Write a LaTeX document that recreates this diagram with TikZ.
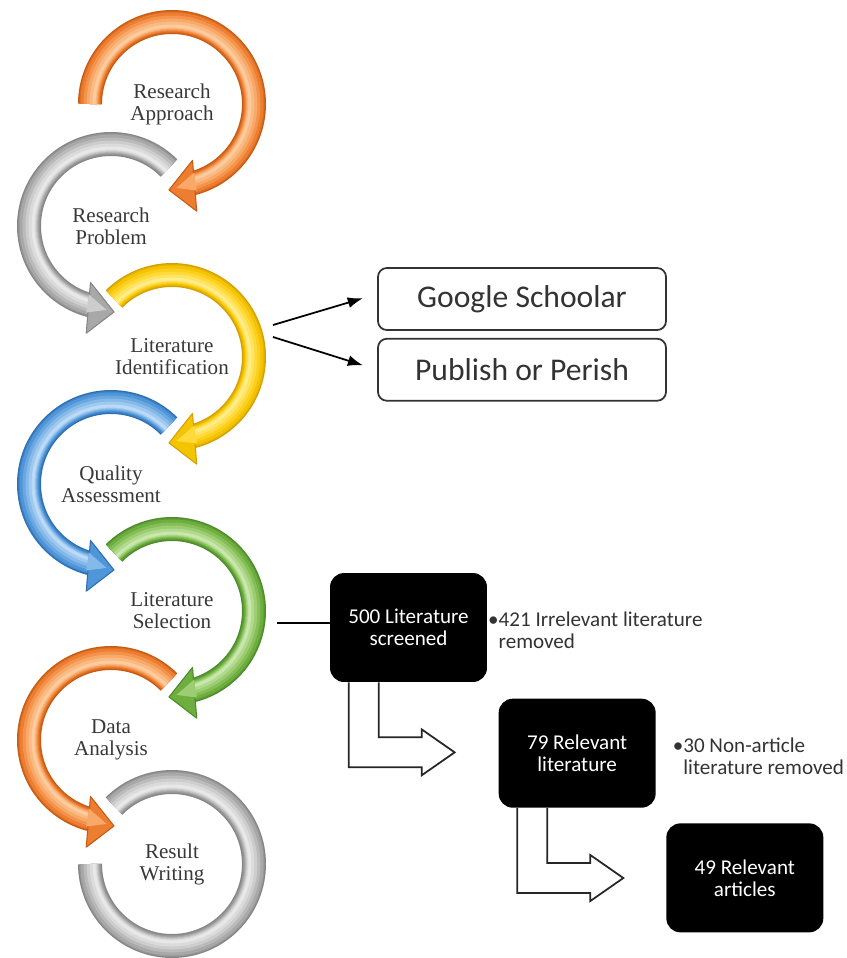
\documentclass[tikz,border=0pt]{standalone}
\usepackage{fontspec}
\setmainfont{Liberation Serif}
\newfontfamily\calibri{Carlito}
\usepackage{xcolor}
\usepackage{tikz}
\usetikzlibrary{arrows.meta,positioning,calc}
\definecolor{orangeD}{HTML}{C65A11}
\definecolor{orangeB}{HTML}{ED7D31}
\definecolor{orangeL}{HTML}{F8A968}
\definecolor{orangeH}{HTML}{FCCB9E}
\definecolor{grayD}{HTML}{858585}
\definecolor{grayB}{HTML}{A8A8A8}
\definecolor{grayL}{HTML}{CDCDCD}
\definecolor{grayH}{HTML}{E8E8E8}
\definecolor{yellowD}{HTML}{D4A000}
\definecolor{yellowB}{HTML}{F5C400}
\definecolor{yellowL}{HTML}{FFDA3A}
\definecolor{yellowH}{HTML}{FFEC8A}
\definecolor{blueD}{HTML}{2E6FB0}
\definecolor{blueB}{HTML}{4F95D9}
\definecolor{blueL}{HTML}{84B9EA}
\definecolor{blueH}{HTML}{BCDAF5}
\definecolor{greenD}{HTML}{4C8A2A}
\definecolor{greenB}{HTML}{6DAE3F}
\definecolor{greenL}{HTML}{9CCD70}
\definecolor{greenH}{HTML}{C9E7AC}
\tikzset{
    stage/.style={
        align=center,
        text=black!78,
        font=\fontsize{12}{12.5}\selectfont
    },
    source/.style={
        rectangle,
        draw=black!80,
        line width=1pt,
        rounded corners=5pt,
        minimum width=5.76cm,
        minimum height=1.24cm,
        text=black!80,
        font=\calibri\fontsize{18}{20}\selectfont
    },
    count/.style={
        rectangle,
        fill=black,
        rounded corners=8pt,
        align=center,
        minimum width=3.14cm,
        minimum height=2.18cm,
        text=white,
        font=\calibri\fontsize{12}{12.5}\selectfont
    },
    note/.style={align=left, inner sep=0pt, text=black!80, font=\calibri\fontsize{12}{12.5}\selectfont},
    feed/.style={-{Latex[length=3mm,width=2.2mm]}, line width=1pt},
    blockarrow/.style={draw=black!85, fill=white, line width=1pt},
    pics/ring/.style n args={3}{code={
        % shaded tube, dark rim to light core
        \foreach \w/\r/\c in {0.48/82/#3D, 0.43/82/#3D!50!#3B, 0.38/82/#3B, 0.30/81/#3B!50!#3L,
                              0.22/80/#3L, 0.14/79/#3L!50!#3H, 0.06/78/#3H}
            \draw[line width=\w cm, \c] (#1:\r) arc[start angle=#1, end angle=#2, radius=\r*0.02cm];
    }},
    pics/ringhead/.style n args={3}{code={
        \filldraw[fill=#3B, draw=#3D, line width=0.6pt, line join=round]
            (#1-3*#2:60) -- (#1+19*#2:86) -- (#1+4*#2:110) -- cycle;
        \fill[#3L] (#1-1*#2:72) -- (#1+14*#2:84) -- (#1+1*#2:90) -- cycle;
    }}
}

\begin{document}
\begin{tikzpicture}[x=0.02cm, y=0.02cm, node distance=0.3cm and 0.3cm]
    \useasboundingbox (0,0) rectangle (847,-958);

    % steps of the review
    \node[stage] (approach) at (172,-104) {Research\\Approach};
    \node[stage] (problem) at (111,-226) {Research\\Problem};
    \node[stage] (identification) at (172,-357) {Literature\\Identification};
    \node[stage] (quality) at (111,-484) {Quality\\Assessment};
    \node[stage] (selection) at (172,-611) {Literature\\Selection};
    \node[stage] (analysis) at (111,-740) {Data\\Analysis};
    \node[stage] (writing) at (172,-864) {Result\\Writing};

    \pic at (writing.center) {ring={135}{-180}{gray}};
    \pic at (analysis.center) {ring={45}{256}{orange}};
    \pic at (analysis.center) {ringhead={253}{1}{orange}};
    \pic at (selection.center) {ring={135}{-76}{green}};
    \pic at (selection.center) {ringhead={-73}{-1}{green}};
    \pic at (quality.center) {ring={45}{256}{blue}};
    \pic at (quality.center) {ringhead={253}{1}{blue}};
    \pic at (identification.center) {ring={135}{-76}{yellow}};
    \pic at (identification.center) {ringhead={-73}{-1}{yellow}};
    \pic at (problem.center) {ring={45}{256}{gray}};
    \pic at (problem.center) {ringhead={253}{1}{gray}};
    \pic at (approach.center) {ring={180}{-76}{orange}};
    \pic at (approach.center) {ringhead={-73}{-1}{orange}};

    % sources
    \node[source] (google) at (522,-299) {Google Schoolar};
    \node[source, below=0.14cm of google] (perish) {Publish or Perish};
    \coordinate (idout) at (273,-331);
    \draw[feed, shorten >=0.3cm] ([yshift=0.12cm]idout) -- ([yshift=0.1cm]google.west);
    \draw[feed, shorten >=0.3cm] ([yshift=-0.12cm]idout) -- (perish.west);

    % screening
    \node[count] (screened) at (408.5,-627.5) {500 Literature\\screened};
    \node[count, below right=0.32cm and 0.22cm of screened] (relevant) {79 Relevant\\literature};
    \node[count, below right=0.3cm and 0.2cm of relevant] (articles) {49 Relevant\\articles};
    \node[note, right=0.22cm of screened, yshift=-0.05cm] (irrelevant) {\llap{\textbullet}421 Irrelevant literature\\removed};
    \node[note, right=0.54cm of relevant, yshift=-0.07cm] (nonarticle) {\llap{\textbullet}30 Non-article\\literature removed};

    \coordinate (selout) at (277,-623);
    \draw[line width=1pt] (selout) -- (selout -| screened.west);

    \foreach \src in {screened, relevant}
        \draw[blockarrow] ($(\src.south west)+(19,0)$) -- ++(0,-85) -- ++(73,0) -- ++(0,-8)
            -- ++(33,23) -- ++(-33,23) -- ++(0,-8) -- ++(-43,0) -- ++(0,55);
\end{tikzpicture}
\end{document}
